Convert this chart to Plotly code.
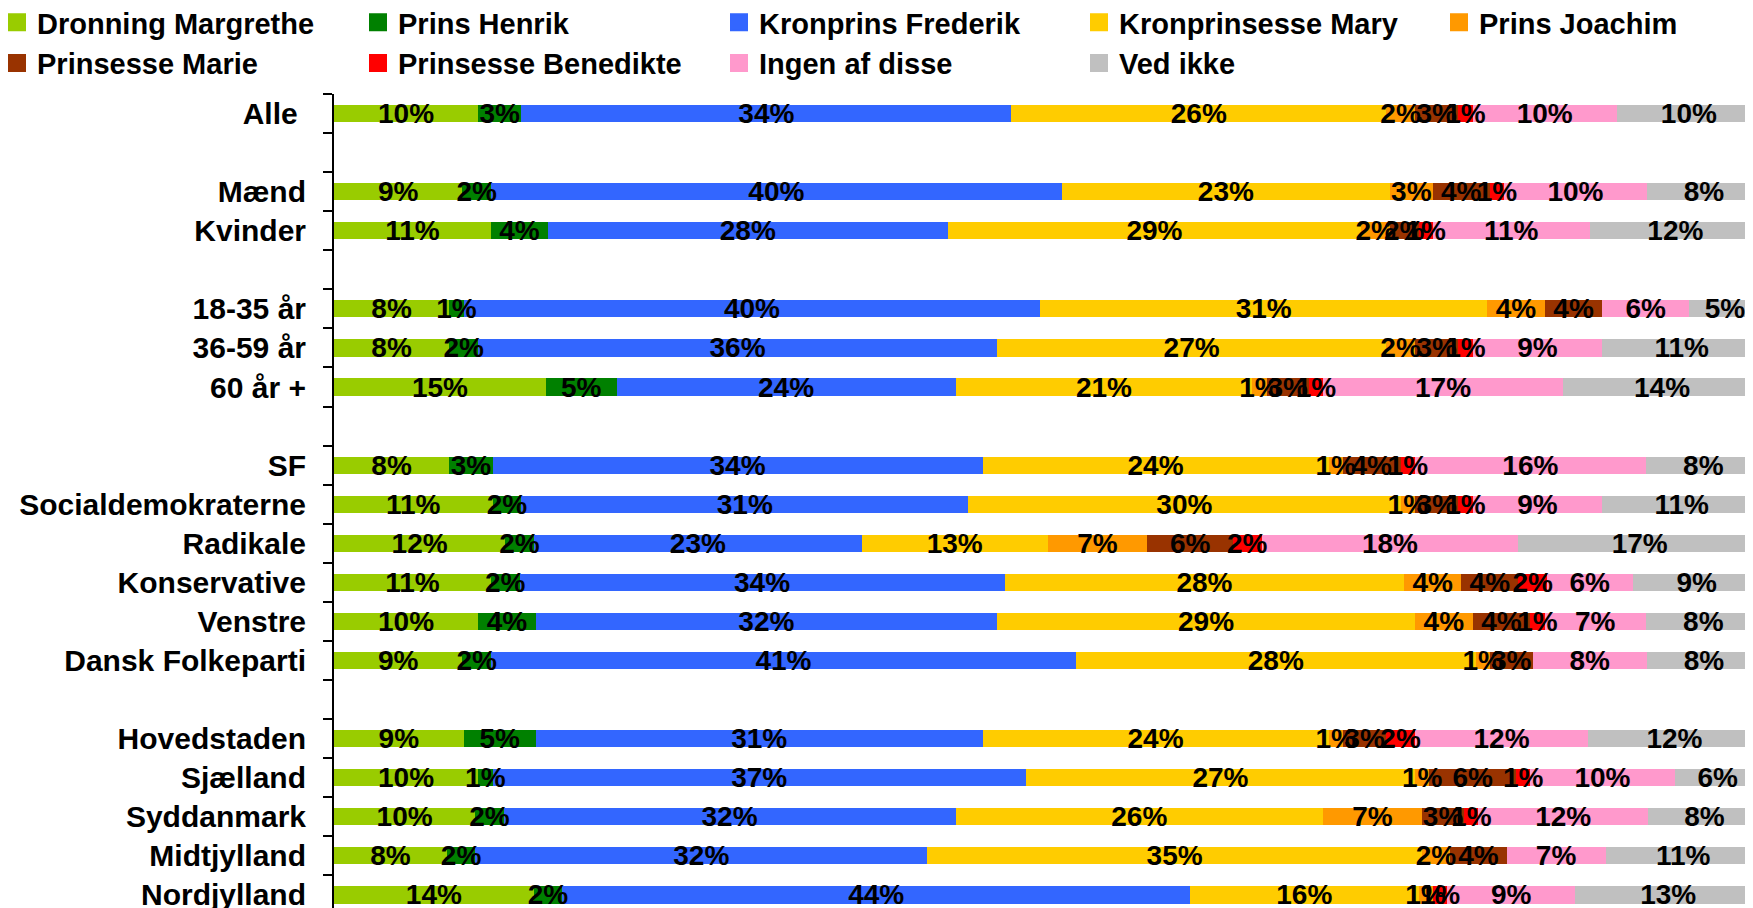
import plotly.graph_objects as go

# Row layout (top to bottom); None marks spacer rows
rows = ["Alle", None, "Mænd", "Kvinder", None, "18-35 år", "36-59 år", "60 år +", None,
        "SF", "Socialdemokraterne", "Radikale", "Konservative", "Venstre", "Dansk Folkeparti", None,
        "Hovedstaden", "Sjælland", "Syddanmark", "Midtjylland", "Nordjylland"]

series_names = ["Dronning Margrethe", "Prins Henrik", "Kronprins Frederik", "Kronprinsesse Mary",
                "Prins Joachim", "Prinsesse Marie", "Prinsesse Benedikte", "Ingen af disse", "Ved ikke"]
colors = ["#99CC00", "#008000", "#3366FF", "#FFCC00", "#FF9900", "#993300", "#FF0000", "#FF99CC", "#C0C0C0"]

# values per group, order: Alle, Mænd, Kvinder, 18-35, 36-59, 60+, SF, Socdem, Radikale,
# Konservative, Venstre, DF, Hovedstaden, Sjælland, Syddanmark, Midtjylland, Nordjylland
dronning_margrethe = [10, 9, 11, 8, 8, 15, 8, 11, 12, 11, 10, 9, 9, 10, 10, 8, 14]
prins_henrik = [3, 2, 4, 1, 2, 5, 3, 2, 2, 2, 4, 2, 5, 1, 2, 2, 2]
kronprins_frederik = [34, 40, 28, 40, 36, 24, 34, 31, 23, 34, 32, 41, 31, 37, 32, 32, 44]
kronprinsesse_mary = [26, 23, 29, 31, 27, 21, 24, 30, 13, 28, 29, 28, 24, 27, 26, 35, 16]
prins_joachim = [2, 3, 2, 4, 2, 1, 1, 1, 7, 4, 4, 1, 1, 1, 7, 2, 1]
prinsesse_marie = [3, 4, 2, 4, 3, 3, 4, 3, 6, 4, 4, 3, 3, 6, 3, 4, 0]
prinsesse_benedikte = [1, 1, 1, 0, 1, 1, 1, 1, 2, 2, 1, 0, 2, 1, 1, 0, 1]
ingen_af_disse = [10, 10, 11, 6, 9, 17, 16, 9, 18, 6, 7, 8, 12, 10, 12, 7, 9]
ved_ikke = [10, 8, 12, 5, 11, 14, 8, 11, 17, 9, 8, 8, 12, 6, 8, 11, 13]

series = [dronning_margrethe, prins_henrik, kronprins_frederik, kronprinsesse_mary, prins_joachim,
          prinsesse_marie, prinsesse_benedikte, ingen_af_disse, ved_ikke]

# legend columns (two rows, five columns) like the reference
legend_of = ["legend", "legend2", "legend3", "legend4", "legend5",
             "legend", "legend2", "legend3", "legend4"]
legend_x_px = [-11, 350, 711, 1071, 1431]

# category names (spacers get unique blank names)
cats = []
blank = 0
for r in rows:
    if r is None:
        blank += 1
        cats.append("\u00a0" * blank)
    elif r == "Alle":
        cats.append("Alle\u00a0")
    else:
        cats.append(r)

FONT = "Liberation Sans, Arial, Helvetica, sans-serif"
W, H = 1753, 908
ML, MT = 326, 86
PW, PH = W - ML, H - MT
SLOT = 39.07

fig = go.Figure()
expanded = []
for name, color, vals in zip(series_names, colors, series):
    it = iter(vals)
    full = [None if r is None else next(it) for r in rows]
    expanded.append(full)
    fig.add_trace(go.Bar(
        name=name, y=cats, x=full, orientation="h",
        marker=dict(color=color, line=dict(width=0)),
        showlegend=False, legendgroup=name, hoverinfo="skip",
    ))

# label layer drawn above all bars (separate overlaid x axis so it stacks on its own)
for name, full in zip(series_names, expanded):
    txt = [("" if v is None or v == 0 else f"{v}%") for v in full]
    fig.add_trace(go.Bar(
        name=name, y=cats, x=full, orientation="h", xaxis="x2",
        marker=dict(color="rgba(0,0,0,0)", line=dict(width=0)),
        text=txt, textposition="inside", insidetextanchor="middle", textangle=0,
        textfont=dict(family=FONT, size=28, color="black", weight="bold"),
        showlegend=False, hoverinfo="skip",
    ))

# legend entries (square swatches, like the reference legend)
for name, color, lg in zip(series_names, colors, legend_of):
    fig.add_trace(go.Scatter(
        name=name, x=[None], y=[None], mode="markers",
        marker=dict(symbol="square", size=16, color=color, line=dict(width=2, color=color)),
        legend=lg, legendgroup=name, hoverinfo="skip",
    ))

legend_font = dict(family=FONT, size=29, color="black", weight="bold")
legends = {}
for i, px in enumerate(legend_x_px):
    key = "legend" if i == 0 else f"legend{i + 1}"
    legends[key] = dict(
        orientation="v", xref="paper", yref="paper",
        x=(px - ML) / PW, y=1 + (MT + 11) / PH,
        xanchor="left", yanchor="top", font=legend_font, tracegroupgap=3,
        traceorder="normal", bgcolor="rgba(0,0,0,0)", itemsizing="trace",
    )

fig.update_layout(
    width=W, height=H,
    barmode="stack", barnorm="percent", bargap=0.56,
    plot_bgcolor="white", paper_bgcolor="white",
    margin=dict(l=ML, r=0, t=MT, b=0, autoexpand=False),
    uniformtext=dict(minsize=28, mode="show"),
    font=dict(family=FONT, size=29, color="black", weight="bold"),
    xaxis=dict(range=[0, 100], showticklabels=False, showgrid=False, zeroline=False,
               showline=False, ticks=""),
    xaxis2=dict(range=[0, 100], overlaying="x", visible=False, showgrid=False, zeroline=False),
    yaxis=dict(type="category", categoryorder="array", categoryarray=cats,
               range=[-0.5 + PH / SLOT, -0.5], tickson="boundaries", ticks="outside", ticklen=9,
               tickwidth=2, tickcolor="black", showline=True, linecolor="black", linewidth=2,
               showgrid=False, zeroline=False, ticklabelstandoff=20,
               tickfont=dict(family=FONT, size=30, color="black", weight="bold")),
    **legends,
)

fig.write_html("out.html")
